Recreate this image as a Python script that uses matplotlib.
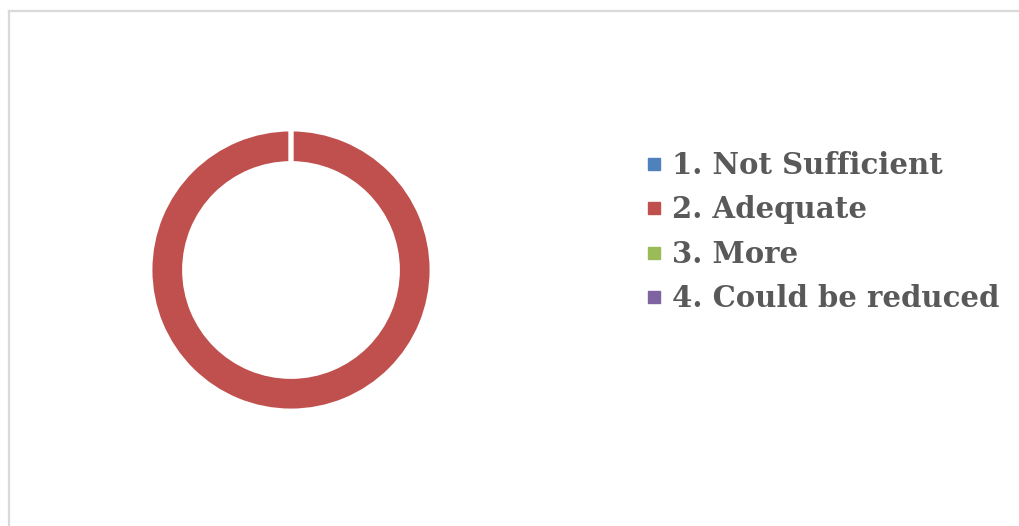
import matplotlib
matplotlib.use("Agg")
import matplotlib.pyplot as plt
from matplotlib.lines import Line2D

categories = ["1. Not Sufficient", "2. Adequate", "3. More", "4. Could be reduced"]
values = [0, 100, 0, 0]
colors = ["#4F81BD", "#C0504D", "#9BBB59", "#8064A2"]

W, H = 1019, 526
fig = plt.figure(figsize=(W / 100, H / 100), dpi=100)
fig.patch.set_facecolor("white")

# chart border (top and left visible)
fig.add_artist(Line2D([9 / W, 1.0], [1 - 10.5 / H, 1 - 10.5 / H], color="#D9D9D9", lw=1.6))
fig.add_artist(Line2D([9 / W, 9 / W], [0, 1 - 10.5 / H], color="#D9D9D9", lw=1.6))

cx, cy, R = 291, 526 - 270, 141
ax = fig.add_axes([(cx - R) / W, (cy - R) / H, 2 * R / W, 2 * R / H])
wedges, _ = ax.pie(values, colors=colors, startangle=90, counterclock=False,
                   radius=1.0,
                   wedgeprops=dict(width=0.245, edgecolor="white", linewidth=3.5))
ax.set_xlim(-1, 1)
ax.set_ylim(-1, 1)
ax.set_aspect("equal")
ax.axis("off")

handles = [Line2D([], [], marker="s", ls="", color=c, markersize=8) for c in colors]
leg = fig.legend(handles, categories, loc="center left",
                 bbox_to_anchor=(645 / W, 1 - 232 / H), frameon=False,
                 prop=dict(family="DejaVu Serif", weight="bold", size=21),
                 labelcolor="#595959", handlelength=0.6, handletextpad=0.33,
                 labelspacing=0.53, borderpad=0, borderaxespad=0)

fig.savefig("out.png", dpi=100, facecolor="white")
